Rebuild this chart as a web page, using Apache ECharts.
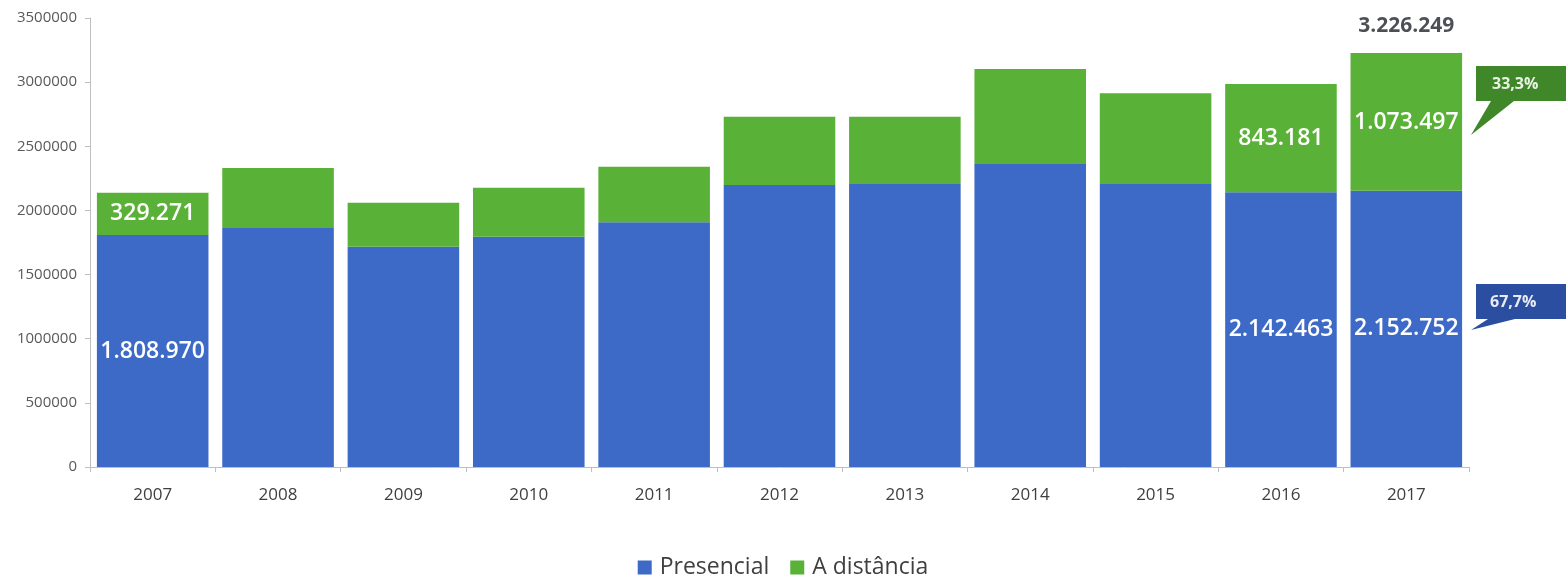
<!DOCTYPE html>
<html>
<head>
<meta charset="utf-8">
<script src="https://cdn.jsdelivr.net/npm/echarts@6/dist/echarts.min.js"></script>
<style>
html,body{margin:0;padding:0;background:#fff;}
#chart{width:1566px;height:580px;}
</style>
</head>
<body>
<div id="chart"></div>
<script>
const years = ['2007','2008','2009','2010','2011','2012','2013','2014','2015','2016','2017'];
const presencial = [1808970, 1863000, 1717000, 1795000, 1907000, 2198000, 2211000, 2367000, 2211000, 2142463, 2152752];
const distancia = [329271, 467000, 343000, 382000, 434000, 532000, 519000, 735000, 702000, 843181, 1073497];
const labeledYears = ['2007','2016','2017'];
const totalYears = ['2017'];
const yTicks = [0, 500000, 1000000, 1500000, 2000000, 2500000, 3000000, 3500000];
const calloutLabels = ['33,3%', '67,7%'];

function fmt(v){ return String(v).replace(/\B(?=(\d{3})+(?!\d))/g, '.'); }

const totals = years.map((y,i) => totalYears.includes(y) ? presencial[i] + distancia[i] : null);

const chart = echarts.init(document.getElementById('chart'));
const FONT = '"Open Sans", sans-serif';
const barLabel = {
  show: true,
  position: 'inside',
  color: '#ffffff',
  fontFamily: FONT,
  fontSize: 23,
  fontWeight: 600,
  formatter: p => labeledYears.includes(p.name) ? fmt(p.value) : ''
};

chart.setOption({
  animation: false,
  backgroundColor: '#ffffff',
  grid: { left: 90, right: 97, top: 18, bottom: 113, containLabel: false },
  legend: {
    data: ['Presencial', 'A distância'],
    bottom: -4,
    left: 'center',
    icon: 'rect',
    itemWidth: 14,
    itemHeight: 14,
    itemGap: 21,
    textStyle: { fontFamily: FONT, fontSize: 23, color: '#404040', padding: [0, 0, 0, 3] }
  },
  xAxis: {
    type: 'category',
    data: years,
    axisLine: { lineStyle: { color: '#bfbfbf', width: 1 } },
    axisTick: { show: true, length: 5, lineStyle: { color: '#bfbfbf' } },
    axisLabel: { fontFamily: FONT, fontSize: 17, color: '#404040', margin: 20 }
  },
  yAxis: {
    type: 'value',
    min: yTicks[0],
    max: yTicks[yTicks.length - 1],
    interval: yTicks[1] - yTicks[0],
    splitLine: { show: false },
    axisLine: { show: true, lineStyle: { color: '#bfbfbf', width: 1 } },
    axisTick: { show: true, length: 5, lineStyle: { color: '#bfbfbf' } },
    axisLabel: { fontFamily: FONT, fontSize: 15, color: '#595959', margin: 13, formatter: v => String(v) }
  },
  series: [
    {
      name: 'Presencial',
      type: 'bar',
      stack: 'total',
      data: presencial,
      barCategoryGap: '11%',
      itemStyle: { color: '#3d69c7' },
      label: barLabel
    },
    {
      name: 'A distância',
      type: 'bar',
      stack: 'total',
      data: distancia,
      barCategoryGap: '11%',
      itemStyle: { color: '#5ab137' },
      label: barLabel
    },
    {
      name: 'Total',
      type: 'scatter',
      data: totals,
      symbolSize: 0,
      itemStyle: { color: '#1f242b' },
      label: {
        show: true,
        position: 'top',
        distance: 17,
        color: '#1f242b',
        fontFamily: FONT,
        fontSize: 21,
        fontWeight: 700,
        formatter: p => p.value == null ? '' : fmt(p.value)
      },
      z: 10
    }
  ],
  graphic: [
    {
      type: 'polygon',
      shape: { points: [[1476,66],[1566,66],[1566,101],[1514,101],[1471,135],[1491,101],[1476,101]] },
      style: { fill: '#40872a' },
      z: 20
    },
    {
      type: 'text',
      left: 1492, top: 76,
      style: { text: calloutLabels[0], fill: '#e8f2e4', font: '700 16px "Open Sans", sans-serif' },
      z: 21
    },
    {
      type: 'polygon',
      shape: { points: [[1476,284],[1566,284],[1566,319],[1515,319],[1471,330],[1488,319],[1476,319]] },
      style: { fill: '#2c4ea0' },
      z: 20
    },
    {
      type: 'text',
      left: 1490, top: 294,
      style: { text: calloutLabels[1], fill: '#e8ecf6', font: '700 16px "Open Sans", sans-serif' },
      z: 21
    }
  ]
});
</script>
</body>
</html>
